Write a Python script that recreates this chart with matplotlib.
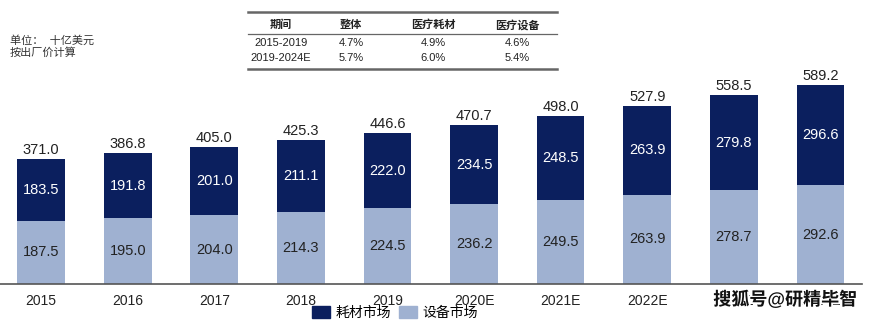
import numpy as np
from matplotlib import pyplot as plt
from matplotlib.patches import Patch
import matplotlib.patheffects as pe

plt.rcParams['font.family'] = ['Liberation Sans', 'Noto Sans CJK SC', 'DejaVu Sans']

## DATA
years = ["2015", "2016", "2017", "2018", "2019", "2020E", "2021E", "2022E", "2023E", "2024E"]
equipment = [187.5, 195.0, 204.0, 214.3, 224.5, 236.2, 249.5, 263.9, 278.7, 292.6]
consumables = [183.5, 191.8, 201.0, 211.1, 222.0, 234.5, 248.5, 263.9, 279.8, 296.6]
totals = [371.0, 386.8, 405.0, 425.3, 446.6, 470.7, 498.0, 527.9, 558.5, 589.2]

table_header = ["期间", "整体", "医疗耗材", "医疗设备"]
table_rows = [["2015-2019", "4.7%", "4.9%", "4.6%"],
              ["2019-2024E", "5.7%", "6.0%", "5.4%"]]
## END DATA

dark = "#0b1f5e"
light = "#9fb1d1"

W, H = 874, 322
fig = plt.figure(figsize=(W/100, H/100), dpi=100)
ax = fig.add_axes([0, (H-284)/H, 862/W, 236.6/H])

x = np.arange(len(years))
ax.bar(x, equipment, width=0.55, color=light, zorder=2)
ax.bar(x, consumables, bottom=equipment, width=0.55, color=dark, zorder=2)

for i in range(len(years)):
    ax.text(x[i], equipment[i]/2, "%.1f" % equipment[i], ha="center", va="center", fontsize=10.5, color="#222222")
    ax.text(x[i], equipment[i] + consumables[i]/2, "%.1f" % consumables[i], ha="center", va="center", fontsize=10.5, color="white")
    ax.text(x[i], totals[i] + 6, "%.1f" % totals[i], ha="center", va="bottom", fontsize=10.5, color="#222222")

ax.set_xlim(-0.475, 9.48)
ax.set_ylim(0, 700)
ax.set_xticks(x)
ax.set_xticklabels(years, fontsize=10, color="#222222")
ax.tick_params(axis="x", length=0, pad=7)
ax.set_yticks([])
for s in ["top", "right", "left"]:
    ax.spines[s].set_visible(False)
ax.spines["bottom"].set_color("#555555")
ax.spines["bottom"].set_linewidth(1.2)

# unit note
fig.text(10/W, 1-40/H, "单位：  十亿美元", fontsize=8, color="#333333", va="center")
fig.text(10/W, 1-53/H, "按出厂价计算", fontsize=8, color="#333333", va="center")

# growth table
col_x = [281, 351, 433, 517]
row_y = [25, 43, 58]
fig.add_artist(plt.Line2D([248/W, 557/W], [1-12/H, 1-12/H], color="#666666", lw=1.8))
fig.add_artist(plt.Line2D([248/W, 557/W], [1-34/H, 1-34/H], color="#666666", lw=0.9))
fig.add_artist(plt.Line2D([248/W, 557/W], [1-69/H, 1-69/H], color="#666666", lw=1.8))
for j, h in enumerate(table_header):
    fig.text(col_x[j]/W, 1-row_y[0]/H, h, fontsize=8, fontweight="bold", ha="center", va="center", color="#222222")
for r, row in enumerate(table_rows):
    for j, v in enumerate(row):
        fig.text(col_x[j]/W, 1-row_y[r+1]/H, v, fontsize=8, ha="center", va="center", color="#222222")

# legend
handles = [Patch(color=dark, label="耗材市场"), Patch(color=light, label="设备市场")]
fig.legend(handles=handles, loc="center", bbox_to_anchor=(395/W, 9/H), ncol=2, frameon=False,
           fontsize=10, handlelength=1.3, handleheight=1.0, columnspacing=0.6, handletextpad=0.4,
           borderpad=0.1)

# watermark
fig.text(785/W, 1-300/H, "搜狐号@研精毕智", fontsize=13, fontweight="bold", ha="center", va="center",
         color="#111111", path_effects=[pe.withStroke(linewidth=2.5, foreground="white")])

plt.savefig("out.png", dpi=100)
